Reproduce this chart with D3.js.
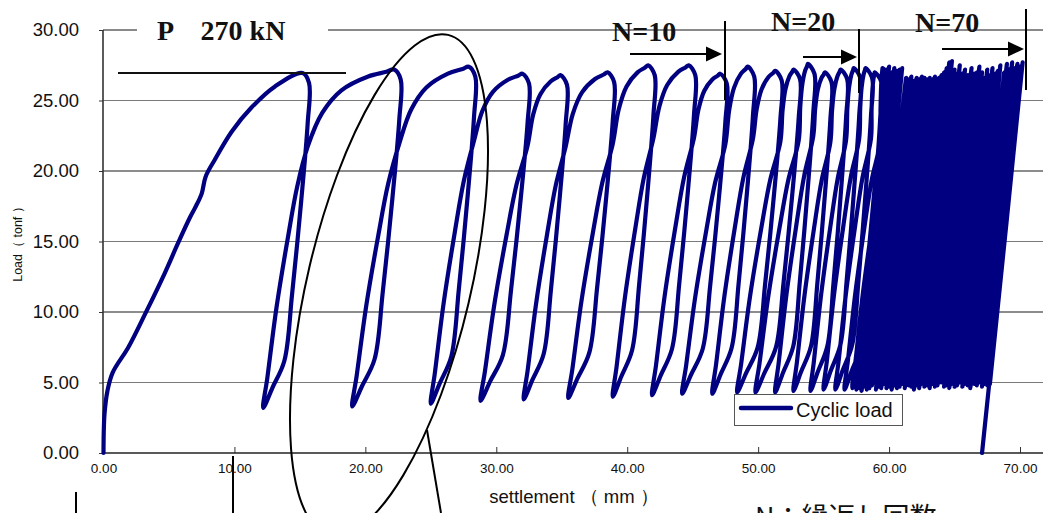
<!DOCTYPE html>
<html><head><meta charset="utf-8">
<script src="https://cdn.jsdelivr.net/npm/d3@7"></script>
<style>
html,body{margin:0;padding:0;background:#fff;}
svg{display:block;}
</style></head><body>
<svg id="chart" width="1043" height="513"></svg>
<script>
// ---------- data (settlement in mm, load in tonf) ----------
const xTicks = [0, 10, 20, 30, 40, 50, 60, 70];
const yTicks = [0, 5, 10, 15, 20, 25, 30];

// first monotonic loading branch
const initialSettlement = [0.0, 0.02, 0.08, 0.3, 0.7, 1.9, 3.2, 4.7, 5.7, 6.6, 7.0, 7.5, 7.8, 8.5, 9.8, 11.3, 13.1];
const initialLoad       = [0.0, 1.5, 2.8, 4.4, 5.7, 7.5, 9.9, 12.8, 14.9, 16.7, 17.4, 18.4, 19.6, 20.8, 22.8, 24.5, 26.0];

// cycle peaks / minima (70 cycles)
const peakSettlement = [15.2, 22.2, 27.9, 32.0, 34.9, 38.5, 41.6, 44.7, 47.1, 49.2, 51.3, 52.7, 53.8, 55.1, 56.3, 57.3, 58.2, 58.9, 59.5,
  59.8, 60.0, 60.2, 60.4, 60.6, 60.8, 61.0, 61.3, 61.5, 61.7, 61.9, 62.1, 62.3, 62.5, 62.7, 62.9, 63.1, 63.3, 63.5, 63.8,
  64.0, 64.2, 64.4, 64.6, 64.8, 65.0, 65.2, 65.4, 65.6, 65.8, 66.0, 66.3, 66.5, 66.7, 66.9, 67.1, 67.3, 67.5, 67.7, 67.9,
  68.1, 68.3, 68.5, 68.8, 69.0, 69.2, 69.4, 69.6, 69.8, 70.0, 70.2];
const peakLoad = [26.95, 27.2, 27.4, 26.9, 26.8, 27.0, 27.5, 27.5, 26.9, 27.4, 27.1, 27.2, 27.6, 27.0, 27.2, 27.3, 27.3, 27.0, 27.3,
  27.2, 27.4, 27.0, 27.3, 27.1, 27.2, 27.3,
  26.6, 26.5, 26.7, 26.4, 26.6, 26.5, 26.7, 26.6, 26.5, 26.6, 26.5, 26.7, 26.6, 26.8,
  27.0, 27.3, 27.7, 27.8, 27.2, 26.9, 27.5,
  26.9, 27.2, 26.8, 27.3, 26.9, 27.0, 27.4,
  27.0, 26.6, 27.2, 26.8, 27.3, 26.9, 27.1,
  27.5, 27.0, 27.6, 27.2, 27.7, 27.3, 27.6, 27.4, 27.7];
const minSettlement = [12.2, 19.0, 25.0, 28.8, 32.1, 35.5, 38.9, 41.9, 44.2, 46.5, 48.4, 49.8, 51.3, 52.7, 54.0, 55.0, 55.9, 56.6, 57.2,
  57.5, 57.7, 57.9, 58.1, 58.3, 58.5, 58.7, 59.0, 59.2, 59.4, 59.6, 59.8, 60.0, 60.2, 60.4, 60.6, 60.8, 61.0, 61.2, 61.5,
  61.7, 61.9, 62.1, 62.3, 62.5, 62.7, 62.9, 63.1, 63.3, 63.5, 63.7, 64.0, 64.2, 64.4, 64.6, 64.8, 65.0, 65.2, 65.4, 65.6,
  65.8, 66.0, 66.2, 66.5, 66.7, 66.9, 67.1, 67.3, 67.5, 67.7, 67.1];
const minLoad = [3.2, 3.3, 3.5, 3.7, 3.8, 3.9, 4.0, 4.1, 4.2, 4.2, 4.3, 4.3, 4.3, 4.4, 4.4, 4.5, 4.5, 4.5, 4.6,
  4.5, 4.6, 4.4, 4.7, 4.5, 4.6, 4.8, 4.5, 4.7, 4.6, 4.9, 4.6, 4.7, 4.5, 4.8, 4.6, 4.7, 4.9, 4.6, 4.8,
  4.7, 4.5, 4.8, 4.6, 4.9, 4.7, 4.8, 4.6, 4.9, 4.7, 4.8, 5.0, 4.7, 4.8, 4.6, 4.9, 4.7, 4.8, 5.0, 4.7,
  4.9, 4.8, 4.6, 4.9, 4.8, 5.0, 4.7, 4.9, 4.8, 4.9, 0.0];
const openLoops = 19; // cycles drawn as separate loops before the dense block

// loop outline read from the first loop (fractions of loop width / height)
const unloadShape = [[1.0, 0.97], [0.97, 0.85], [0.83, 0.62], [0.63, 0.34], [0.46, 0.14], [0.2, 0.06]];
const reloadShape = [[0.09, 0.09], [0.29, 0.30], [0.54, 0.51], [0.74, 0.66], [0.97, 0.78]];
const humpShape   = [[0.17, 0.44], [0.39, 0.73], [0.70, 0.91], [0.91, 0.97]];

const seriesName = "Cyclic load";

// ---------- chart ----------
const W = 1043, H = 513;
const svg = d3.select("#chart");
const x = d3.scaleLinear().domain([0, 70]).range([103.5, 1020]);
const y = d3.scaleLinear().domain([0, 30]).range([453, 30]);
const navy = "#000080";

// grid lines
svg.append("g").selectAll("line").data(yTicks.filter(v => v > 0)).join("line")
  .attr("x1", 103).attr("x2", W)
  .attr("y1", d => y(d)).attr("y2", d => y(d))
  .attr("stroke", d => d === 30 ? "#8a8a8a" : (d % 10 === 0 ? "#1a1a1a" : "#7a7a7a"))
  .attr("stroke-width", d => d === 30 ? 2 : 1.2);

// axes
const yAxis = svg.append("g").attr("transform", "translate(103,0)")
  .call(d3.axisLeft(y).tickValues(yTicks).tickSize(4).tickPadding(20).tickFormat(d3.format(".2f")));
yAxis.select(".domain").remove();
yAxis.selectAll(".tick line").attr("stroke", "#333");
yAxis.selectAll("text").attr("font-family", "Liberation Sans, Arial, sans-serif").attr("font-size", 18.5).attr("fill", "#111");
svg.append("line").attr("x1", 103).attr("x2", 103).attr("y1", y(30)).attr("y2", y(0)).attr("stroke", "#333").attr("stroke-width", 1.6);

const xAxis = svg.append("g").attr("transform", "translate(0,453)")
  .call(d3.axisBottom(x).tickValues(xTicks).tickSize(-6).tickPadding(10).tickFormat(d3.format(".2f")));
xAxis.select(".domain").remove();
xAxis.selectAll(".tick line").attr("stroke", "#333");
xAxis.selectAll("text").attr("font-family", "Liberation Sans, Arial, sans-serif").attr("font-size", 13.5).attr("fill", "#111");
svg.append("line").attr("x1", 103).attr("x2", W).attr("y1", y(0)).attr("y2", y(0)).attr("stroke", "#222").attr("stroke-width", 1.6);

// axis titles
svg.append("text").attr("transform", "translate(22,241) rotate(-90)")
  .attr("text-anchor", "middle").attr("font-family", "Liberation Sans, Arial, sans-serif").attr("font-size", 12.5)
  .attr("fill", "#111").text("Load（ tonf ）");
svg.append("text").attr("x", 574).attr("y", 503).attr("text-anchor", "middle")
  .attr("font-family", "Liberation Sans, Arial, sans-serif").attr("font-size", 18.5).attr("fill", "#111")
  .text("settlement （ mm ）");

// build the load–settlement path
const pts = initialSettlement.map((s, i) => [s, initialLoad[i]]);
for (let i = 0; i < peakSettlement.length; i++) {
  const P = [peakSettlement[i], peakLoad[i]];
  const M = [minSettlement[i], minLoad[i]];
  pts.push(P);
  if (i < openLoops) {
    const d = P[0] + 0.5 - M[0], h = P[1] - M[1];
    unloadShape.forEach(([fd, fh]) => pts.push([M[0] + fd * d, M[1] + fh * h]));
    pts.push(M);
    reloadShape.forEach(([fd, fh]) => pts.push([M[0] + fd * d, M[1] + fh * h]));
    const K = pts[pts.length - 1];
    if (i + 1 < peakSettlement.length) {
      const N = [peakSettlement[i + 1], peakLoad[i + 1]];
      humpShape.forEach(([fs, fl]) => pts.push([K[0] + fs * (N[0] - K[0]), K[1] + fl * (N[1] - K[1])]));
    }
  } else {
    pts.push(M);
  }
}
const line = d3.line().x(d => x(d[0])).y(d => y(d[1])).curve(d3.curveCatmullRom.alpha(0.5));
svg.append("path").attr("d", line(pts)).attr("fill", "none").attr("stroke", navy)
  .attr("stroke-width", 4.2).attr("stroke-linejoin", "round").attr("stroke-linecap", "round");

// title with white background over the top grid line
svg.append("rect").attr("x", 137).attr("y", 16).attr("width", 191).attr("height", 28).attr("fill", "#fff");
svg.append("text").attr("x", 157).attr("y", 40).attr("font-family", "Liberation Serif, Times New Roman, serif")
  .attr("font-weight", "bold").attr("font-size", 28).attr("fill", "#111").text("P　270 kN");
svg.append("line").attr("x1", 118).attr("x2", 346).attr("y1", 73).attr("y2", 73).attr("stroke", "#111").attr("stroke-width", 1.8);

// N markers
const marks = [
  {label: "N=10", tx: 612, ty: 41, ax1: 630, ax2: 722, ay: 54, vx: 725, vy1: 21, vy2: 100},
  {label: "N=20", tx: 771, ty: 31, ax1: 803, ax2: 857, ay: 57, vx: 859, vy1: 29, vy2: 93},
  {label: "N=70", tx: 915, ty: 32, ax1: 942, ax2: 1024, ay: 49, vx: 1026, vy1: 9, vy2: 90}
];
marks.forEach(m => {
  svg.append("text").attr("x", m.tx).attr("y", m.ty).attr("font-family", "Liberation Serif, Times New Roman, serif")
    .attr("font-weight", "bold").attr("font-size", 28).attr("fill", "#111").text(m.label);
  svg.append("line").attr("x1", m.ax1).attr("x2", m.ax2 - 14).attr("y1", m.ay).attr("y2", m.ay)
    .attr("stroke", "#000").attr("stroke-width", 2);
  svg.append("path").attr("d", `M${m.ax2 - 16},${m.ay - 7.5}L${m.ax2},${m.ay}L${m.ax2 - 16},${m.ay + 7.5}Z`).attr("fill", "#000");
  svg.append("line").attr("x1", m.vx).attr("x2", m.vx).attr("y1", m.vy1).attr("y2", m.vy2)
    .attr("stroke", "#000").attr("stroke-width", 2);
});

// ellipse + leader lines
svg.append("ellipse").attr("cx", 0).attr("cy", 0).attr("rx", 257).attr("ry", 81.6)
  .attr("transform", "translate(389,285) rotate(-76.7)")
  .attr("fill", "none").attr("stroke", "#000").attr("stroke-width", 2);
svg.append("line").attr("x1", 427).attr("y1", 430).attr("x2", 441).attr("y2", 513).attr("stroke", "#000").attr("stroke-width", 2);
svg.append("line").attr("x1", 233).attr("y1", 456).attr("x2", 233).attr("y2", 513).attr("stroke", "#000").attr("stroke-width", 2);
svg.append("line").attr("x1", 76).attr("y1", 492).attr("x2", 76).attr("y2", 513).attr("stroke", "#000").attr("stroke-width", 2);

// legend
svg.append("rect").attr("x", 734.5).attr("y", 394.5).attr("width", 168).attr("height", 31)
  .attr("fill", "#fff").attr("stroke", "#555").attr("stroke-width", 1);
svg.append("line").attr("x1", 741).attr("x2", 791).attr("y1", 408).attr("y2", 408)
  .attr("stroke", navy).attr("stroke-width", 4.5).attr("stroke-linecap", "round");
svg.append("text").attr("x", 796).attr("y", 416.5).attr("font-family", "Liberation Sans, Arial, sans-serif")
  .attr("font-size", 20).attr("fill", "#111").text(seriesName);

// bottom note (cut off by the frame, as in the reference)
svg.append("text").attr("x", 755).attr("y", 527).attr("font-family", "Noto Sans CJK JP, sans-serif")
  .attr("font-size", 27).attr("fill", "#111").text("N：繰返し回数");
</script>
</body></html>
